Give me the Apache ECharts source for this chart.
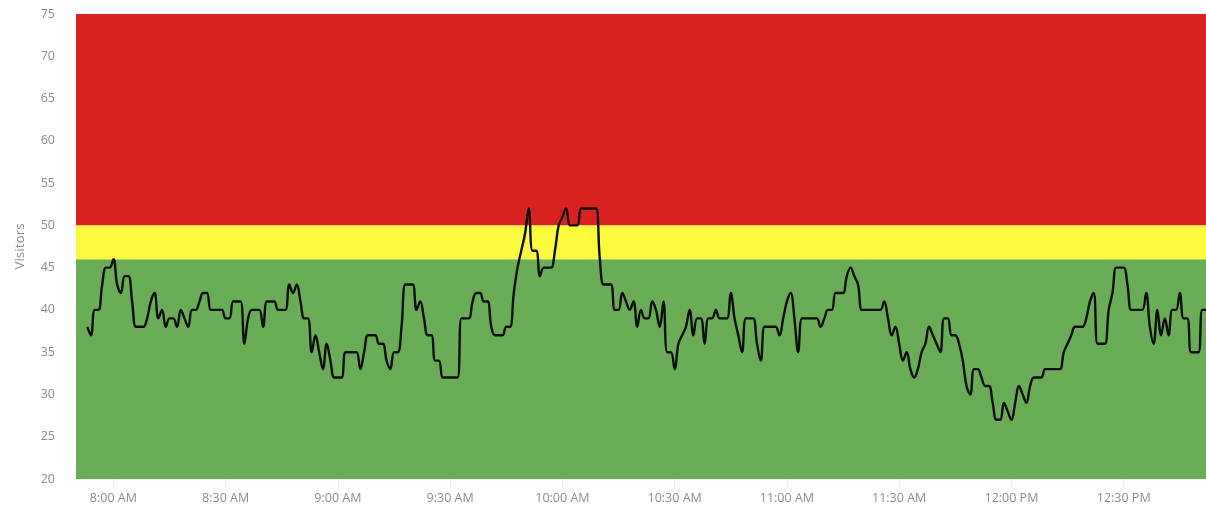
<!DOCTYPE html>
<html>
<head>
<meta charset="utf-8">
<script src="https://cdn.jsdelivr.net/npm/echarts@6/dist/echarts.min.js"></script>
<style>
	html, body { margin: 0; padding: 0; background: #fff; }
	#main { width: 1206px; height: 509px; }
</style>
</head>
<body>
<div id="main"></div>
<script>
	// one sample per minute, first sample at 7:50 AM
	var startMinute = 7 * 60 + 50;
	var visitors = [
		null, null, null, 38, 37, 40, 40, 43, 45, 45,
		46, 43, 42, 44, 44, 41, 38, 38, 38, 39,
		41, 42, 39, 40, 38, 39, 39, 38, 40, 39,
		38, 40, 40, 41, 42, 42, 40, 40, 40, 40,
		39, 39, 41, 41, 41, 36, 39, 40, 40, 40,
		38, 41, 41, 41, 40, 40, 40, 43, 42, 43,
		41, 39, 39, 35, 37, 35, 33, 36, 34, 32,
		32, 32, 35, 35, 35, 35, 33, 35, 37, 37,
		37, 36, 36, 34, 33, 35, 35, 38, 43, 43,
		43, 40, 41, 39, 37, 37, 34, 34, 32, 32,
		32, 32, 32, 39, 39, 39, 41, 42, 42, 41,
		41, 38, 37, 37, 37, 38, 38, 42, 45, 47,
		49, 52, 47, 47, 44, 45, 45, 45, 47, 50,
		51, 52, 50, 50, 50, 52, 52, 52, 52, 52,
		46, 43, 43, 43, 40, 40, 42, 41, 40, 41,
		38, 40, 39, 39, 41, 40, 38, 41, 35, 35,
		33, 36, 37, 38, 40, 37, 39, 39, 36, 39,
		39, 40, 39, 39, 39, 42, 39, 37, 35, 39,
		39, 39, 36, 34, 38, 38, 38, 38, 37, 39,
		41, 42, 39, 35, 39, 39, 39, 39, 39, 38,
		39, 40, 40, 42, 42, 42, 44, 45, 44, 43,
		40, 40, 40, 40, 40, 40, 41, 39, 37, 38,
		36, 34, 35, 33, 32, 33, 35, 36, 38, 37,
		36, 35, 39, 39, 37, 37, 36, 34, 31, 30,
		33, 33, 32, 31, 31, 29, 27, 27, 29, 28,
		27, 29, 31, 30, 29, 31, 32, 32, 32, 33,
		33, 33, 33, 33, 35, 36, 37, 38, 38, 38,
		39, 41, 42, 36, 36, 36, 40, 42, 45, 45,
		45, 43, 40, 40, 40, 40, 42, 38, 36, 40,
		37, 39, 37, 40, 40, 42, 39, 39, 35, 35,
		35, 40, 40
	];
	var tickLabels = ['8:00 AM', '8:30 AM', '9:00 AM', '9:30 AM', '10:00 AM',
		'10:30 AM', '11:00 AM', '11:30 AM', '12:00 PM', '12:30 PM'];
	// threshold bands: green up to 46, yellow up to 50, red above
	var bandLimits = [20, 46, 50, 75];
	var bandColors = ['#69ad56', '#fbfa3d', '#da2121'];

	var times = [];
	for (var i = 0; i < visitors.length; i++) {
		var m = startMinute + i;
		var h = Math.floor(m / 60);
		var mm = m % 60;
		var h12 = h > 12 ? h - 12 : h;
		times.push(h12 + ':' + (mm < 10 ? '0' : '') + mm + (h >= 12 ? ' PM' : ' AM'));
	}

	var isTick = function (index, value) {
		return tickLabels.indexOf(value) !== -1;
	};

	var bands = [];
	for (var b = 0; b < bandColors.length; b++) {
		bands.push([
			{ yAxis: bandLimits[b], itemStyle: { color: bandColors[b], opacity: 1 } },
			{ yAxis: bandLimits[b + 1] }
		]);
	}

	var chart = echarts.init(document.getElementById('main'));
	var option = {
		animation: false,
		textStyle: { fontFamily: 'Open Sans' },
		grid: { left: 76, right: 0, top: 14, bottom: 30 },
		xAxis: {
			type: 'category',
			data: times,
			boundaryGap: false,
			axisLine: { show: false },
			axisTick: {
				show: true,
				interval: isTick,
				length: 7,
				lineStyle: { color: '#e4e4e4' }
			},
			axisLabel: {
				interval: isTick,
				color: '#8c8c8c',
				fontSize: 12.5,
				margin: 13
			}
		},
		yAxis: {
			type: 'value',
			min: 20,
			max: 75,
			interval: 5,
			name: 'Visitors',
			nameLocation: 'middle',
			nameGap: 49,
			nameTextStyle: { color: '#8c8c8c', fontSize: 13.5 },
			axisLine: { show: false },
			axisTick: { show: false },
			splitLine: { show: false },
			axisLabel: { color: '#8c8c8c', fontSize: 12.5, margin: 21 }
		},
		series: [
			{
				name: 'Visitors',
				type: 'line',
				data: visitors,
				smooth: 0.4,
				symbol: 'none',
				lineStyle: { color: '#0d0d0d', width: 2.4 },
				markArea: {
					silent: true,
					z: 1,
					data: bands
				},
				z: 3
			}
		]
	};
	chart.setOption(option);
</script>
</body>
</html>
